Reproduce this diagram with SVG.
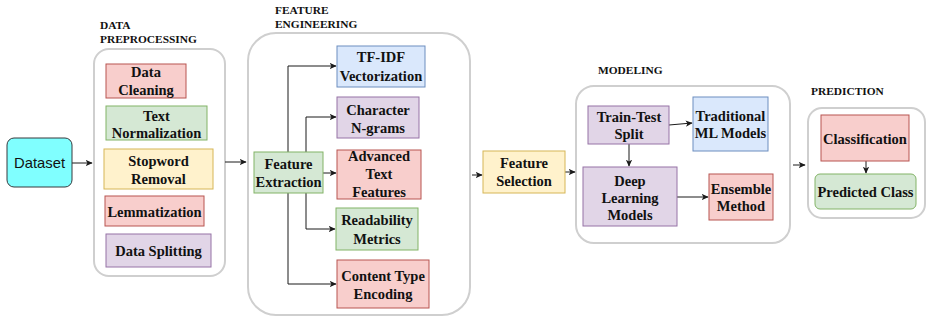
<svg xmlns="http://www.w3.org/2000/svg" width="927" height="321" viewBox="0 0 927 321">
<defs>
<style>
.grp{fill:#fff;stroke:#cfcfcf;stroke-width:2}
.lbl{font-family:"Liberation Serif",serif;font-weight:bold;font-size:11.4px;fill:#111}
.t{font-family:"Liberation Serif",serif;font-weight:bold;font-size:14.5px;fill:#111;text-anchor:middle}
.red{fill:#f8cecc;stroke:#b85450}
.green{fill:#d5e8d4;stroke:#82b366}
.yellow{fill:#fff2cc;stroke:#d6b656}
.purple{fill:#e1d5e7;stroke:#9673a6}
.blue{fill:#dae8fc;stroke:#6c8ebf}
.c{fill:none;stroke:#1a1a1a;stroke-width:1;marker-end:url(#ah)}
</style>
<marker id="ah" viewBox="0 0 10 10" refX="9" refY="5" markerWidth="7" markerHeight="7" markerUnits="userSpaceOnUse" orient="auto">
<path d="M0,0.5 L10,5 L0,9.5 L2.5,5 Z" fill="#1a1a1a"/>
</marker>
</defs>
<rect width="927" height="321" fill="#fff"/>

<g id="containers">
<rect class="grp" x="94" y="49" width="131" height="227" rx="15"/>
<rect class="grp" x="248" y="33" width="222" height="282" rx="28"/>
<rect class="grp" x="576" y="86" width="214" height="157" rx="18"/>
<rect class="grp" x="808" y="108" width="117" height="110" rx="14"/>
</g>

<g id="labels">
<text class="lbl" x="100" y="29">DATA</text>
<text class="lbl" x="100" y="43">PREPROCESSING</text>
<text class="lbl" x="275" y="14">FEATURE</text>
<text class="lbl" x="275" y="28">ENGINEERING</text>
<text class="lbl" x="598" y="74">MODELING</text>
<text class="lbl" x="811" y="95">PREDICTION</text>
</g>

<g id="connectors">
<path class="c" d="M72,163 H92"/>
<path class="c" d="M225,162 H246"/>
<path class="c" d="M288,152 V66 H336"/>
<path class="c" d="M306,152 V117 H336"/>
<path class="c" d="M323,173 H336"/>
<path class="c" d="M306,193 V229 H335"/>
<path class="c" d="M288,193 V284 H336"/>
<path class="c" d="M472,175 H482"/>
<path class="c" d="M565,172 H575"/>
<path class="c" d="M669,125 L692,123"/>
<path class="c" d="M629,144 V166"/>
<path class="c" d="M677,197 H708"/>
<path class="c" d="M793,165 H805"/>
<path class="c" d="M866,161 V173"/>
</g>

<g id="dataset">
<rect x="7" y="138" width="65" height="49" rx="7" fill="#80ffff" stroke="#36393d"/>
<text x="39.5" y="168" font-family="Liberation Sans,Arial,sans-serif" font-size="14.8" fill="#111" text-anchor="middle">Dataset</text>
</g>

<g id="data-cleaning">
<rect class="red" x="106" y="64" width="80" height="34"/>
<text class="t" x="146" y="77">Data</text>
<text class="t" x="146" y="95">Cleaning</text>
</g>
<g id="text-normalization">
<rect class="green" x="106" y="106" width="101" height="34"/>
<text class="t" x="156.5" y="121">Text</text>
<text class="t" x="156.5" y="138">Normalization</text>
</g>
<g id="stopword-removal">
<rect class="yellow" x="104" y="149" width="109" height="40"/>
<text class="t" x="158.5" y="166">Stopword</text>
<text class="t" x="158.5" y="184">Removal</text>
</g>
<g id="lemmatization">
<rect class="red" x="105" y="196" width="99" height="30"/>
<text class="t" x="154.5" y="217">Lemmatization</text>
</g>
<g id="data-splitting">
<rect class="purple" x="106" y="234" width="105" height="33"/>
<text class="t" x="158.5" y="256">Data Splitting</text>
</g>

<g id="feature-extraction">
<rect class="green" x="254" y="152" width="69" height="41"/>
<text class="t" x="288.5" y="169">Feature</text>
<text class="t" x="288.5" y="187">Extraction</text>
</g>
<g id="tfidf">
<rect class="blue" x="337" y="46" width="88" height="41"/>
<text class="t" x="381" y="62">TF-IDF</text>
<text class="t" x="381" y="81">Vectorization</text>
</g>
<g id="char-ngrams">
<rect class="purple" x="337" y="97" width="82" height="41"/>
<text class="t" x="378" y="115">Character</text>
<text class="t" x="378" y="133">N-grams</text>
</g>
<g id="advanced-text">
<rect class="red" x="337" y="150" width="84" height="49"/>
<text class="t" x="379" y="161">Advanced</text>
<text class="t" x="379" y="179">Text</text>
<text class="t" x="379" y="197">Features</text>
</g>
<g id="readability">
<rect class="green" x="336" y="208" width="82" height="42"/>
<text class="t" x="377" y="225">Readability</text>
<text class="t" x="377" y="244">Metrics</text>
</g>
<g id="content-type">
<rect class="red" x="337" y="260" width="92" height="48"/>
<text class="t" x="383" y="281">Content Type</text>
<text class="t" x="383" y="299">Encoding</text>
</g>

<g id="feature-selection">
<rect class="yellow" x="483" y="151" width="82" height="42"/>
<text class="t" x="524" y="168">Feature</text>
<text class="t" x="524" y="186">Selection</text>
</g>

<g id="train-test">
<rect class="purple" x="588" y="106" width="81" height="38"/>
<text class="t" x="629" y="122">Train-Test</text>
<text class="t" x="629" y="139">Split</text>
</g>
<g id="traditional-ml">
<rect class="blue" x="693" y="97" width="75" height="54"/>
<text class="t" x="730.5" y="121">Traditional</text>
<text class="t" x="730.5" y="138">ML Models</text>
</g>
<g id="deep-learning">
<rect class="purple" x="583" y="167" width="94" height="59"/>
<text class="t" x="630" y="186">Deep</text>
<text class="t" x="630" y="203">Learning</text>
<text class="t" x="630" y="220">Models</text>
</g>
<g id="ensemble">
<rect class="red" x="709" y="174" width="64" height="46"/>
<text class="t" x="741" y="194">Ensemble</text>
<text class="t" x="741" y="211">Method</text>
</g>

<g id="classification">
<rect class="red" x="821" y="115" width="88" height="46"/>
<text class="t" x="865" y="144">Classification</text>
</g>
<g id="predicted-class">
<rect class="green" x="815" y="174" width="101" height="35" rx="5"/>
<text class="t" x="865.5" y="197">Predicted Class</text>
</g>
</svg>
